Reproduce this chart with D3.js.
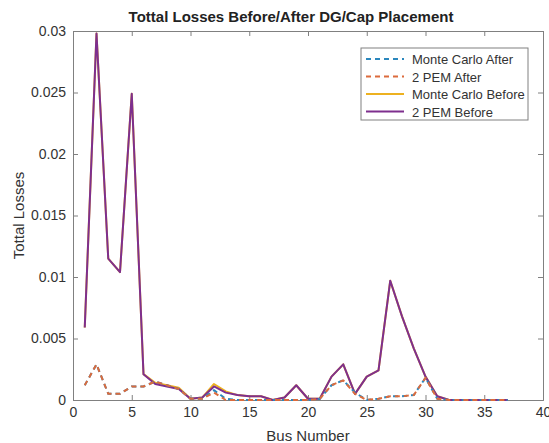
<!DOCTYPE html>
<html>
<head>
<meta charset='utf-8'>
<script src="https://cdn.jsdelivr.net/npm/d3@7/dist/d3.min.js"></script>
<style>
  body { margin: 0; background: #fff; }
  text { font-family: "Liberation Sans", Arial, sans-serif; }
</style>
</head>
<body>
<div id="chart"></div>
<script>
// ---- data ----
var buses = d3.range(1, 38);

var mcAfter   = [0.0012, 0.0029, 0.0005, 0.0005, 0.0011, 0.0011, 0.0015, 0.0012, 0.0009, 0.0001,
                 0.0001, 0.0008, 0.0001, 0.0000, 0.0000, 0.0000, 0.0000, 0.0000, 0.0000, 0.0000,
                 0.0001, 0.0012, 0.0016, 0.0006, 0.0000, 0.0001, 0.0003, 0.0003, 0.0004, 0.0018,
                 0.0001, 0.0000, 0.0000, 0.0000, 0.0000, 0.0000, 0.0000];
var pemAfter  = [0.0012, 0.0029, 0.0005, 0.0005, 0.0011, 0.0011, 0.0015, 0.0012, 0.0009, 0.0001,
                 0.0001, 0.0006, 0.0000, 0.0000, 0.0000, 0.0000, 0.0000, 0.0000, 0.0000, 0.0000,
                 0.0001, 0.0012, 0.0016, 0.0005, 0.0000, 0.0001, 0.0003, 0.0003, 0.0004, 0.0018,
                 0.0001, 0.0000, 0.0000, 0.0000, 0.0000, 0.0000, 0.0000];
var mcBefore  = [0.0059, 0.0298, 0.0115, 0.0104, 0.0249, 0.0021, 0.0014, 0.0012, 0.0010, 0.0001,
                 0.0002, 0.0013, 0.0007, 0.0004, 0.0003, 0.0003, 0.0000, 0.0002, 0.0012, 0.0001,
                 0.0001, 0.0019, 0.0029, 0.0005, 0.0019, 0.0024, 0.0097, 0.0068, 0.0042, 0.0019,
                 0.0003, 0.0000, 0.0000, 0.0000, 0.0000, 0.0000, 0.0000];
var pemBefore = [0.0059, 0.0298, 0.0115, 0.0104, 0.0249, 0.0021, 0.0013, 0.0011, 0.0009, 0.0001,
                 0.0002, 0.0011, 0.0006, 0.0004, 0.0003, 0.0003, 0.0000, 0.0002, 0.0012, 0.0001,
                 0.0001, 0.0019, 0.0029, 0.0005, 0.0019, 0.0024, 0.0097, 0.0068, 0.0042, 0.0019,
                 0.0003, 0.0000, 0.0000, 0.0000, 0.0000, 0.0000, 0.0000];

var xTicks = [0, 5, 10, 15, 20, 25, 30, 35, 40];
var yTicks = [0, 0.005, 0.01, 0.015, 0.02, 0.025, 0.03];

var series = [
  { name: "Monte Carlo After",  values: mcAfter,   color: "#2b87bd", dash: "5,4" },
  { name: "2 PEM After",        values: pemAfter,  color: "#dc6b3c", dash: "5,4" },
  { name: "Monte Carlo Before", values: mcBefore,  color: "#edb120", dash: null },
  { name: "2 PEM Before",       values: pemBefore, color: "#7e2f8e", dash: null }
];

// ---- layout ----
var W = 549, H = 443;
var margin = {top: 31, right: 6, bottom: 43, left: 73};
var width = W - margin.left - margin.right,
    height = H - margin.top - margin.bottom;

var svg = d3.select("#chart").append("svg")
  .attr("width", W).attr("height", H);

var g = svg.append("g")
  .attr("transform", "translate(" + [margin.left, margin.top] + ")");

var x = d3.scaleLinear().domain([0, 40]).range([0, width]);
var y = d3.scaleLinear().domain([0, 0.03]).range([height, 0]);

var axisColor = "#808080";

// axes (matlab look: ticks inside, box on)
var xAxis = d3.axisBottom(x).tickValues(xTicks).tickSize(-5).tickPadding(7).tickFormat(d3.format("d"));
var yAxis = d3.axisLeft(y).tickValues(yTicks).tickSize(-5).tickPadding(7).tickFormat(function(d){ return d === 0 ? "0" : String(+d.toFixed(3)); });

var gx = g.append("g").attr("transform", "translate(0," + height + ")").call(xAxis);
var gy = g.append("g").call(yAxis);
var gxTop = g.append("g").call(d3.axisTop(x).tickValues(xTicks).tickSize(-5).tickFormat(""));
var gyRight = g.append("g").attr("transform", "translate(" + width + ",0)")
  .call(d3.axisRight(y).tickValues(yTicks).tickSize(-5).tickFormat(""));

[gx, gy, gxTop, gyRight].forEach(function(a){
  a.select(".domain").attr("stroke", axisColor);
  a.selectAll(".tick line").attr("stroke", axisColor);
  a.selectAll(".tick text").attr("fill", "#333").style("font-size", "14px")
    .style("font-family", "'Liberation Sans', Arial, sans-serif");
});

// lines
var line = d3.line()
  .x(function(d, i){ return x(buses[i]); })
  .y(function(d){ return y(d); });

// yellow under purple, dashed on top
var drawOrder = [series[2], series[3], series[0], series[1]];
drawOrder.forEach(function(s){
  g.append("path")
    .datum(s.values)
    .attr("fill", "none")
    .attr("stroke", s.color)
    .attr("stroke-width", 2)
    .attr("stroke-dasharray", s.dash)
    .attr("stroke-linejoin", "round")
    .attr("d", line);
});

// title and labels
svg.append("text")
  .attr("x", 291).attr("y", 22)
  .attr("text-anchor", "middle")
  .style("font-size", "15px").style("font-weight", "bold").attr("fill", "#222")
  .text("Tottal Losses Before/After DG/Cap Placement");

svg.append("text")
  .attr("x", margin.left + width / 2).attr("y", 441)
  .attr("text-anchor", "middle")
  .style("font-size", "15px").attr("fill", "#333")
  .text("Bus Number");

svg.append("text")
  .attr("transform", "translate(24," + (margin.top + height / 2) + ") rotate(-90)")
  .attr("text-anchor", "middle")
  .style("font-size", "15px").attr("fill", "#333")
  .text("Tottal Losses");

// legend
var lg = svg.append("g").attr("transform", "translate(361,48)");
lg.append("rect")
  .attr("width", 167).attr("height", 72)
  .attr("fill", "#fff").attr("stroke", axisColor);

series.forEach(function(s, i){
  var yy = 11 + i * 17.5;
  lg.append("line")
    .attr("x1", 5).attr("x2", 43).attr("y1", yy).attr("y2", yy)
    .attr("stroke", s.color).attr("stroke-width", 2)
    .attr("stroke-dasharray", s.dash);
  lg.append("text")
    .attr("x", 51).attr("y", yy + 5)
    .style("font-size", "13px").attr("fill", "#333")
    .text(s.name);
});
</script>
</body>
</html>
